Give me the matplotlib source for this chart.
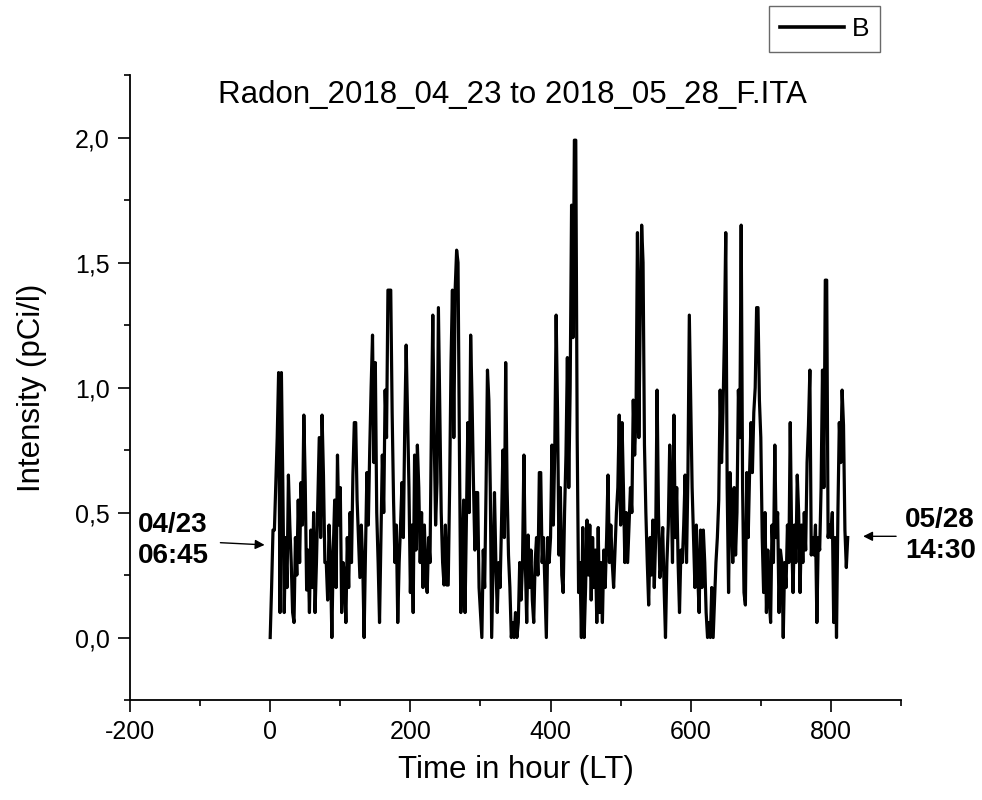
import numpy as np
import matplotlib
matplotlib.use('Agg')
import matplotlib.pyplot as plt
from matplotlib.ticker import MultipleLocator, FuncFormatter

plt.rcParams['font.family'] = ['Liberation Sans', 'DejaVu Sans']
plt.rcParams['axes.unicode_minus'] = False

# radon intensity (pCi/l), read every 2 hours from the start 04/23 06:45
radon = [
    0.0, 0.2, 0.43, 0.43, 0.62, 0.8, 1.06, 0.1, 1.06, 0.62, 0.1, 0.4, 0.2, 0.65, 0.45, 0.3, 0.1, 0.06, 0.4, 0.25,
    0.55, 0.3, 0.62, 0.45, 0.89, 0.62, 0.19, 0.35, 0.1, 0.43, 0.2, 0.5, 0.1, 0.3, 0.55, 0.8, 0.4, 0.89, 0.65, 0.3,
    0.3, 0.15, 0.45, 0.3, 0.0, 0.35, 0.55, 0.2, 0.73, 0.45, 0.6, 0.1, 0.3, 0.25, 0.06, 0.4, 0.2, 0.5, 0.3, 0.65,
    0.86, 0.86, 0.55, 0.4, 0.24, 0.45, 0.3, 0.0, 0.35, 0.66, 0.45, 0.75, 1.0, 1.21, 0.7, 1.1, 0.5, 0.3, 0.06, 0.4,
    0.73, 0.5, 0.99, 0.8, 1.39, 1.39, 1.39, 0.9, 0.55, 0.3, 0.45, 0.06, 0.3, 0.45, 0.62, 0.4, 0.85, 1.17, 0.89, 0.6,
    0.18, 0.45, 0.1, 0.73, 0.35, 0.77, 0.6, 0.3, 0.5, 0.2, 0.45, 0.25, 0.18, 0.4, 0.3, 0.85, 1.29, 0.8, 0.45, 0.62,
    1.32, 0.9, 0.5, 0.3, 0.21, 0.45, 0.21, 0.21, 0.6, 1.1, 1.39, 0.8, 1.4, 1.55, 1.5, 0.75, 0.1, 0.3, 0.55, 0.1,
    0.47, 0.86, 0.5, 1.21, 0.95, 0.62, 0.35, 0.58, 0.58, 0.2, 0.1, 0.0, 0.35, 0.2, 0.6, 1.07, 0.95, 0.6, 0.0, 0.3,
    0.58, 0.3, 0.1, 0.3, 0.2, 0.45, 0.75, 0.4, 1.1, 0.6, 0.33, 0.2, 0.0, 0.06, 0.0, 0.1, 0.0, 0.06, 0.3, 0.15,
    0.3, 0.73, 0.3, 0.06, 0.41, 0.2, 0.35, 0.15, 0.06, 0.3, 0.4, 0.25, 0.66, 0.66, 0.3, 0.4, 0.2, 0.0, 0.4, 0.3,
    0.4, 0.77, 0.45, 0.75, 1.29, 0.9, 0.33, 0.6, 0.25, 0.18, 0.5, 0.73, 1.12, 0.6, 1.0, 1.73, 1.2, 1.99, 1.99, 0.8,
    0.18, 0.3, 0.0, 0.44, 0.0, 0.2, 0.47, 0.25, 0.45, 0.15, 0.4, 0.2, 0.35, 0.06, 0.44, 0.1, 0.3, 0.06, 0.35, 0.2,
    0.4, 0.65, 0.3, 0.45, 0.3, 0.2, 0.35, 0.5, 0.6, 0.89, 0.45, 0.86, 0.6, 0.3, 0.5, 0.3, 0.45, 0.6, 0.5, 0.95,
    0.73, 0.9, 1.62, 0.8, 1.3, 1.65, 1.5, 0.77, 0.5, 0.3, 0.13, 0.4, 0.25, 0.47, 0.2, 0.4, 0.99, 0.5, 0.24, 0.3,
    0.44, 0.2, 0.0, 0.3, 0.45, 0.77, 0.6, 0.3, 0.89, 0.4, 0.6, 0.3, 0.1, 0.35, 0.3, 0.45, 0.65, 0.3, 0.65, 1.29,
    0.95, 0.6, 0.4, 0.2, 0.45, 0.25, 0.1, 0.43, 0.2, 0.43, 0.3, 0.1, 0.0, 0.06, 0.0, 0.2, 0.0, 0.15, 0.3, 0.4,
    0.55, 0.99, 0.7, 0.9, 1.2, 1.62, 0.6, 0.18, 0.66, 0.5, 0.3, 0.6, 0.33, 0.5, 0.99, 0.8, 1.65, 0.6, 0.18, 0.13,
    0.66, 0.4, 0.66, 0.86, 0.66, 0.9, 1.0, 1.32, 1.32, 0.95, 0.8, 0.4, 0.18, 0.5, 0.1, 0.35, 0.15, 0.06, 0.45, 0.3,
    0.77, 0.4, 0.5, 0.1, 0.35, 0.3, 0.0, 0.3, 0.2, 0.45, 0.3, 0.86, 0.4, 0.18, 0.45, 0.3, 0.65, 0.5, 0.18, 0.45,
    0.3, 0.5, 0.35, 0.7, 0.85, 1.07, 0.33, 0.4, 0.33, 0.45, 0.06, 0.4, 0.35, 0.6, 1.07, 0.6, 1.43, 1.43, 0.4, 0.45,
    0.4, 0.5, 0.06, 0.4, 0.0, 0.5, 0.86, 0.7, 0.99, 0.85, 0.43, 0.28, 0.4,
]
step_hours = 2
hours = np.arange(len(radon)) * step_hours

title = 'Radon_2018_04_23 to 2018_05_28_F.ITA'
start_label = '04/23\n06:45'
end_label = '05/28\n14:30'

fig = plt.figure(figsize=(9.82, 8), dpi=100)
ax = fig.add_axes([0.1324, 0.125, 0.7851, 0.781])

ax.plot(hours, radon, color='black', lw=2.3, label='B')

ax.set_xlim(-200, 900)
ax.set_ylim(-0.25, 2.25)
ax.xaxis.set_major_locator(MultipleLocator(200))
ax.xaxis.set_minor_locator(MultipleLocator(100))
ax.yaxis.set_major_locator(MultipleLocator(0.5))
ax.yaxis.set_minor_locator(MultipleLocator(0.25))
ax.yaxis.set_major_formatter(FuncFormatter(lambda v, p: f'{v:.1f}'.replace('.', ',')))

ax.spines['top'].set_visible(False)
ax.spines['right'].set_visible(False)
for s in ['left', 'bottom']:
    ax.spines[s].set_linewidth(1.3)
ax.tick_params(which='major', direction='out', length=8.5, width=1.2, labelsize=18, pad=6)
ax.tick_params(which='minor', direction='out', length=4.5, width=1.2)

ax.set_xlabel('Time in hour (LT)', fontsize=22.5)
ax.set_ylabel('Intensity (pCi/l)', fontsize=22.5)
ax.xaxis.set_label_coords(0.5, -0.088)
ax.yaxis.set_label_coords(-0.108, 0.5)

fig.text(512 / 982, 1 - 95 / 800, title, fontsize=22.5, ha='center', va='center')

# start / end annotations
ax.text(-189, 0.39, start_label, fontsize=20, fontweight='bold', ha='left', va='center',
        linespacing=1.25, clip_on=False)
ax.text(906, 0.41, end_label, fontsize=20, fontweight='bold', ha='left', va='center',
        linespacing=1.25, clip_on=False)
ax.annotate('', xy=(-4, 0.37), xytext=(-75, 0.38),
            arrowprops=dict(arrowstyle='-|>', color='black', lw=1, mutation_scale=14),
            annotation_clip=False)
ax.annotate('', xy=(842, 0.405), xytext=(897, 0.405),
            arrowprops=dict(arrowstyle='-|>', color='black', lw=1, mutation_scale=14),
            annotation_clip=False)

leg = fig.legend(loc='upper right', bbox_to_anchor=(880 / 982, 1 - 6 / 800), fontsize=19,
                 frameon=True, fancybox=False, handlelength=2.4, handletextpad=0.3,
                 borderpad=0.42, borderaxespad=0)
leg.get_frame().set_edgecolor('#444444')
leg.get_frame().set_linewidth(1.0)
leg.get_lines()[0].set_linewidth(2.6)

fig.savefig('out.png', dpi=100)
